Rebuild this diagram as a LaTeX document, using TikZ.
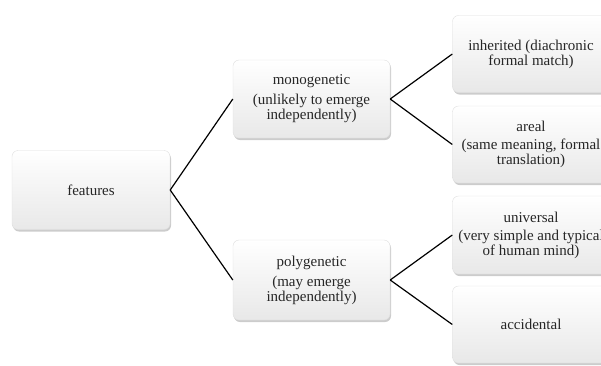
\documentclass[tikz,border=0pt]{standalone}
\usepackage{fontspec}
\setmainfont{Liberation Serif}
\usepackage{tikz}
\usetikzlibrary{shadows}

\begin{document}
\begin{tikzpicture}[x=1pt,y=-1pt,font=\fontsize{15}{15}\selectfont,
                    box/.style={rectangle,rounded corners=6pt,draw=gray!25,top color=white,bottom color=gray!18,
                                drop shadow={opacity=0.4,shadow xshift=1pt,shadow yshift=-2pt},
                                minimum width=157,minimum height=78,align=center,text=black!85},
                    link/.style={black,line width=1.2pt}]
  \useasboundingbox (0,0) rectangle (601,365);
  \clip (0,0) rectangle (601,365);
  % root
  \node[box,minimum width=158,minimum height=79] (feat) at (91,190) {features};
  % middle level
  \node[box] (mono) at (311.5,99) {monogenetic\\[5pt](unlikely to emerge\\independently)};
  \node[box,minimum height=80] (poly) at (311.5,280) {polygenetic\\[5pt](may emerge\\independently)};
  % right column, cut off at the page edge
  \node[box,minimum height=77] (inh) at (531,54) {inherited (diachronic\\formal match)};
  \node[box,minimum height=77] (areal) at (531,144.5) {areal\\[3pt](same meaning, formal\\translation)};
  \node[box,minimum height=78] (univ) at (531,235) {universal\\[3pt](very simple and typical\\of human mind)};
  \node[box,minimum height=77] (acc) at (531,324.5) {accidental};
  % connectors
  \draw[link] (feat.east)--(mono.west) (feat.east)--(poly.west);
  \draw[link] (mono.east)--(inh.west) (mono.east)--(areal.west);
  \draw[link] (poly.east)--(univ.west) (poly.east)--(acc.west);
\end{tikzpicture}
\end{document}
